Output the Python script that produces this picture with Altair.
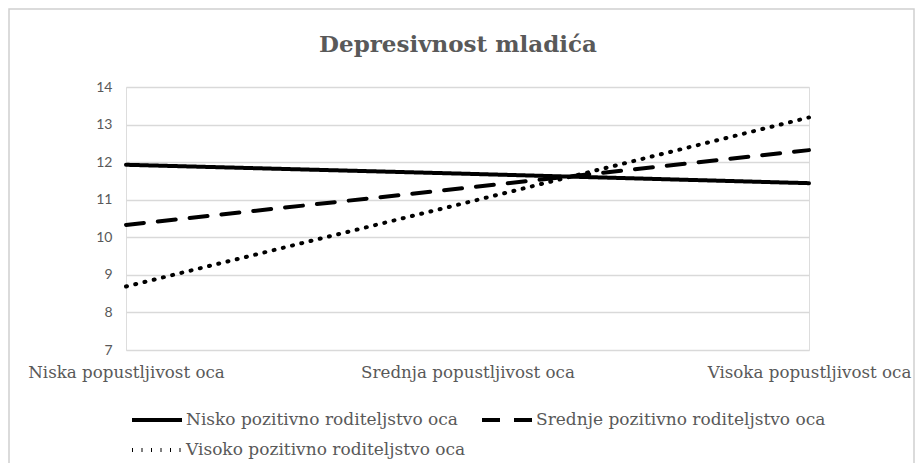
import altair as alt
import pandas as pd

title_text = "Depresivnost mladića"
categories = ["Niska popustljivost oca", "Srednja popustljivost oca", "Visoka popustljivost oca"]
series = ["Nisko pozitivno roditeljstvo oca", "Srednje pozitivno roditeljstvo oca", "Visoko pozitivno roditeljstvo oca"]
nisko = [11.93, 11.69, 11.44]
srednje = [10.33, 11.32, 12.32]
visoko = [8.69, 10.93, 13.19]
y_ticks = [7, 8, 9, 10, 11, 12, 13, 14]

rows = []
for name, vals in zip(series, [nisko, srednje, visoko]):
    for c, v in zip(categories, vals):
        rows.append({"kat": c, "serija": name, "vrijednost": v})
df = pd.DataFrame(rows)

dashes = [[1, 0], [18, 14], [1, 8.5]]

serif = "DejaVu Serif"
sans = "Lato"

x_enc = alt.X("kat:N", sort=categories, scale=alt.Scale(type="point", padding=0),
              axis=alt.Axis(title=None, labelAngle=0, domain=False, ticks=False, grid=False,
                            labelFont=serif, labelFontSize=16.7, labelColor="#595959",
                            labelPadding=14, labelLimit=400, labelOverlap=False))
y_enc = alt.Y("vrijednost:Q", scale=alt.Scale(domain=[7, 14], nice=False, zero=False),
              axis=alt.Axis(title=None, values=y_ticks, domain=False, ticks=False,
                            gridColor="#d9d9d9", gridWidth=1.5,
                            labelFont=sans, labelFontSize=14, labelColor="#595959",
                            labelPadding=14))


def legend(y):
    return alt.Legend(title=None, orient="none", legendX=4, legendY=y, direction="horizontal",
                      columnPadding=16, symbolType="stroke", symbolSize=2500,
                      symbolStrokeWidth=4, symbolStrokeColor="black",
                      labelFont=serif, labelFontSize=17, labelColor="#595959",
                      labelOffset=2, labelLimit=400)


top_series = series[:2]
bottom_series = series[2:]

lines_a = alt.Chart(df[df["serija"].isin(top_series)]).mark_line(
    strokeWidth=4, strokeCap="round", color="black"
).encode(
    x=x_enc, y=y_enc,
    strokeDash=alt.StrokeDash("serija:N", sort=top_series,
                              scale=alt.Scale(domain=top_series, range=dashes[:2]),
                              legend=legend(306)),
)

lines_b = alt.Chart(df[df["serija"].isin(bottom_series)]).mark_line(
    strokeWidth=4, strokeCap="round", color="black"
).encode(
    x=x_enc, y=y_enc,
    strokeDash=alt.StrokeDash("serija:N", sort=bottom_series,
                              scale=alt.Scale(domain=bottom_series, range=dashes[2:]),
                              legend=legend(336)),
)

title = alt.Chart(pd.DataFrame({"t": [title_text]})).mark_text(
    font=serif, fontSize=23, fontWeight="bold", color="#595959", baseline="middle", align="center"
).encode(text="t:N", x=alt.value(332), y=alt.value(-42))

border = alt.Chart(pd.DataFrame({"a": [0]})).mark_rect(
    fill=None, stroke="#d0d0d0", strokeWidth=1.5
).encode(x=alt.value(-117), x2=alt.value(788), y=alt.value(-78), y2=alt.value(420))

chart = alt.layer(border, lines_a, lines_b, title).resolve_scale(
    strokeDash="independent"
).properties(
    width=683, height=263,
    autosize=alt.AutoSizeParams(type="none"),
    padding={"left": 118, "top": 79, "right": 107, "bottom": 113},
).configure_view(stroke=None).configure(background="white")

chart.save("out.html", embed_options={"renderer": "svg", "actions": False})
